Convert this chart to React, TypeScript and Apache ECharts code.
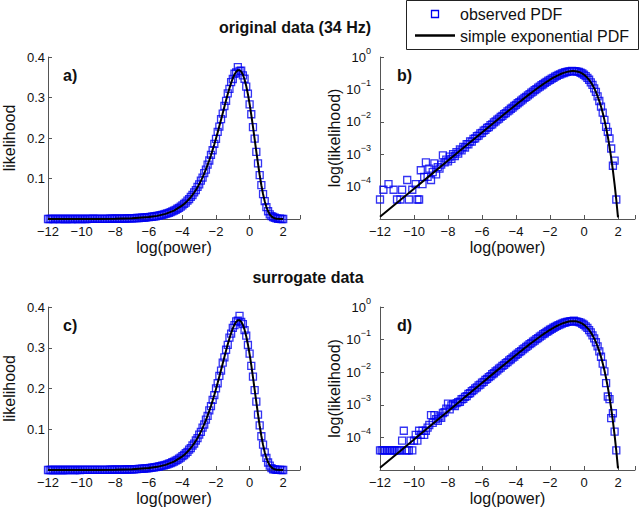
import { useEffect, useRef } from "react";
import * as echarts from "echarts";

// bin centres of log(power)
const binCenters = [
  -12.0, -11.9, -11.8, -11.7, -11.6, -11.5, -11.4, -11.3, -11.2, -11.1,
  -11.0, -10.9, -10.8, -10.7, -10.6, -10.5, -10.4, -10.3, -10.2, -10.1,
  -10.0, -9.9, -9.8, -9.7, -9.6, -9.5, -9.4, -9.3, -9.2, -9.1,
  -9.0, -8.9, -8.8, -8.7, -8.6, -8.5, -8.4, -8.3, -8.2, -8.1,
  -8.0, -7.9, -7.8, -7.7, -7.6, -7.5, -7.4, -7.3, -7.2, -7.1,
  -7.0, -6.9, -6.8, -6.7, -6.6, -6.5, -6.4, -6.3, -6.2, -6.1,
  -6.0, -5.9, -5.8, -5.7, -5.6, -5.5, -5.4, -5.3, -5.2, -5.1,
  -5.0, -4.9, -4.8, -4.7, -4.6, -4.5, -4.4, -4.3, -4.2, -4.1,
  -4.0, -3.9, -3.8, -3.7, -3.6, -3.5, -3.4, -3.3, -3.2, -3.1,
  -3.0, -2.9, -2.8, -2.7, -2.6, -2.5, -2.4, -2.3, -2.2, -2.1,
  -2.0, -1.9, -1.8, -1.7, -1.6, -1.5, -1.4, -1.3, -1.2, -1.1,
  -1.0, -0.9, -0.8, -0.7, -0.6, -0.5, -0.4, -0.3, -0.2, -0.1,
  0.0, 0.1, 0.2, 0.3, 0.4, 0.5, 0.6, 0.7, 0.8, 0.9,
  1.0, 1.1, 1.2, 1.3, 1.4, 1.5, 1.6, 1.7, 1.8, 1.9,
  2.0,
];

// observed PDF, original data (34 Hz)
const observedOriginal = [
  4.0e-5, 0, 8.0e-5, 0, 0, 1.2e-4, 0, 0, 8.0e-5, 0,
  4.0e-5, 0, 4.0e-5, 8.0e-5, 0, 0, 1.6e-4, 4.0e-5, 0, 8.0e-5,
  0, 1.2e-4, 4.0e-5, 4.0e-5, 3.2e-4, 1.2e-4, 2.0e-4, 5.6e-4, 2.0e-4, 3.6e-4,
  1.6e-4, 2.8e-4, 5.2e-4, 2.4e-4, 4.0e-4, 3.6e-4, 4.8e-4, 9.2e-4, 5.6e-4, 6.8e-4,
  6.0e-4, 8.4e-4, 7.2e-4, 1.0e-3, 8.8e-4, 1.16e-3, 1.04e-3, 1.4e-3, 1.32e-3, 1.68e-3,
  1.6e-3, 2.04e-3, 2.0e-3, 2.48e-3, 2.44e-3, 2.96e-3, 3.08e-3, 3.6e-3, 3.72e-3, 4.4e-3,
  4.56e-3, 5.32e-3, 5.6e-3, 6.48e-3, 6.84e-3, 7.88e-3, 8.36e-3, 9.56e-3, 1.024e-2, 1.16e-2,
  1.252e-2, 1.412e-2, 1.528e-2, 1.716e-2, 1.86e-2, 2.084e-2, 2.264e-2, 2.532e-2, 2.748e-2, 3.076e-2,
  3.34e-2, 3.732e-2, 4.048e-2, 4.52e-2, 4.9e-2, 5.46e-2, 5.92e-2, 6.58e-2, 7.13e-2, 7.91e-2,
  8.56e-2, 0.0948, 0.1024, 0.1131, 0.1219, 0.1343, 0.1444, 0.1584, 0.1697, 0.1855,
  0.1979, 0.2151, 0.2283, 0.2467, 0.2601, 0.279, 0.2918, 0.3102, 0.3213, 0.3378,
  0.3457, 0.3587, 0.3617, 0.3752, 0.3657, 0.366, 0.3546, 0.3463, 0.3267, 0.3098,
  0.2828, 0.2586, 0.2268, 0.1984, 0.1657, 0.1373, 0.1081, 0.0838, 0.0613, 0.0439,
  0.0293, 0.0191, 0.0114, 7.0e-3, 4.9e-3, 3.1e-3, 1.5e-3, 4.4e-4, 6.3e-4, 4.0e-5,
  0,
];

// observed PDF, surrogate data
const observedSurrogate = [
  4.0e-5, 4.0e-5, 4.0e-5, 4.0e-5, 4.0e-5, 4.0e-5, 4.0e-5, 4.0e-5, 4.0e-5, 4.0e-5,
  4.0e-5, 4.0e-5, 4.0e-5, 8.0e-5, 1.6e-4, 4.0e-5, 4.0e-5, 4.0e-5, 8.0e-5, 4.0e-5,
  8.0e-5, 1.2e-4, 8.0e-5, 1.6e-4, 1.2e-4, 1.6e-4, 1.2e-4, 1.6e-4, 2.0e-4, 2.4e-4,
  4.8e-4, 2.8e-4, 4.8e-4, 3.6e-4, 3.2e-4, 4.4e-4, 4.0e-4, 5.6e-4, 6.0e-4, 7.6e-4,
  1.08e-3, 7.2e-4, 9.6e-4, 1.04e-3, 9.2e-4, 1.12e-3, 1.2e-3, 1.24e-3, 1.48e-3, 1.52e-3,
  1.76e-3, 1.84e-3, 2.16e-3, 2.28e-3, 2.64e-3, 2.8e-3, 3.2e-3, 3.44e-3, 3.92e-3, 4.16e-3,
  4.76e-3, 5.08e-3, 5.84e-3, 6.24e-3, 7.08e-3, 7.6e-3, 8.64e-3, 9.28e-3, 1.052e-2, 1.132e-2,
  1.28e-2, 1.38e-2, 1.56e-2, 1.684e-2, 1.896e-2, 2.048e-2, 2.304e-2, 2.492e-2, 2.8e-2, 3.028e-2,
  3.396e-2, 3.676e-2, 4.116e-2, 4.452e-2, 4.98e-2, 5.38e-2, 6.01e-2, 6.49e-2, 7.24e-2, 7.81e-2,
  8.69e-2, 0.0935, 0.1039, 0.1116, 0.1237, 0.1326, 0.1464, 0.1566, 0.172, 0.1835,
  0.2005, 0.2129, 0.2312, 0.2441, 0.2633, 0.2762, 0.2951, 0.3071, 0.3247, 0.3346,
  0.349, 0.3556, 0.3649, 0.3662, 0.3782, 0.3632, 0.358, 0.3432, 0.3298, 0.3068,
  0.2857, 0.2557, 0.2292, 0.1962, 0.1676, 0.1357, 0.1094, 0.0828, 0.0622, 0.0433,
  0.0298, 0.0184, 0.0106, 4.6e-3, 1.8e-3, 1.5e-3, 3.9e-4, 5.5e-4, 1.5e-4, 4.0e-5,
  0,
];

// simple exponential PDF
const curveX = [
  -12, -11, -10, -9, -8, -7, -6, -5.5, -5, -4.5,
  -4.0, -3.9, -3.8, -3.7, -3.6, -3.5, -3.4, -3.3, -3.2, -3.1,
  -3.0, -2.9, -2.8, -2.7, -2.6, -2.5, -2.4, -2.3, -2.2, -2.1,
  -2.0, -1.9, -1.8, -1.7, -1.6, -1.5, -1.4, -1.3, -1.2, -1.1,
  -1.0, -0.9, -0.8, -0.7, -0.6, -0.5, -0.4, -0.3, -0.2, -0.1,
  0.0, 0.1, 0.2, 0.3, 0.4, 0.5, 0.6, 0.7, 0.8, 0.9,
  1.0, 1.1, 1.2, 1.3, 1.4, 1.5, 1.6, 1.7, 1.8, 1.9, 2.0,
];
const curveY = [
  1.167e-5, 3.173e-5, 8.625e-5, 2.344e-4, 6.37e-4, 1.7296e-3, 4.6875e-3, 7.7046e-3, 1.2639e-2, 2.0666e-2,
  0.03361, 0.037009, 0.040736, 0.04482, 0.04929, 0.054177, 0.059514, 0.065336, 0.071677, 0.078573,
  0.086058, 0.094167, 0.102933, 0.112384, 0.122547, 0.13344, 0.145075, 0.157452, 0.17056, 0.184371,
  0.198835, 0.213883, 0.229417, 0.245307, 0.261388, 0.277456, 0.293264, 0.308524, 0.322898, 0.336014,
  0.347459, 0.356783, 0.363538, 0.367269, 0.367553, 0.364007, 0.356381, 0.344485, 0.328328, 0.308096,
  0.28418, 0.257181, 0.227908, 0.197331, 0.16652, 0.136596, 0.108635, 0.083387, 0.061627, 0.043657,
  0.029514, 0.018948, 0.011489, 0.00654, 0.003472, 0.0017065, 7.7017e-4, 3.1635e-4, 1.171e-4, 3.8635e-5, 1.1225e-5,
];

const sectionTitles = ["original data (34 Hz)", "surrogate data"];
const panelLetters = ["a)", "b)", "c)", "d)"];
const legendNames = ["observed PDF", "simple exponential PDF"];
const xAxisName = "log(power)";
const yAxisNames = ["likelihood", "log(likelihood)"];

const FONT = '"Liberation Sans", Arial, Helvetica, sans-serif';
const MINUS = "\u2212";
const TEXT = "#111";
const AXIS = "#555";
const BLUE = "#0000f0";

function fmtX(v: number) {
  if (v > 2) return "";
  return String(v).replace("-", MINUS);
}

export default function App() {
  const ref = useRef<HTMLDivElement>(null);
  useEffect(() => {
    const chart = echarts.init(ref.current!, null, { renderer: "svg" });
    const grids = [
      { left: 45, top: 57, width: 255, height: 162 },
      { left: 380, top: 57, width: 255, height: 162 },
      { left: 45, top: 307, width: 255, height: 163 },
      { left: 380, top: 307, width: 255, height: 163 },
    ];
    const isLog = [false, true, false, true];
    const obs = [observedOriginal, observedOriginal, observedSurrogate, observedSurrogate];

    const xAxis = grids.map((_, i) => ({
      type: "value",
      gridIndex: i,
      min: -12,
      max: 3,
      interval: 2,
      name: xAxisName,
      nameLocation: "middle",
      nameGap: 20,
      nameTextStyle: { fontSize: 16, color: TEXT, fontFamily: FONT },
      axisLine: { show: true, onZero: false, lineStyle: { color: AXIS, width: 1 } },
      axisTick: { show: true, inside: true, length: 4, lineStyle: { color: AXIS } },
      axisLabel: { fontSize: 13, color: TEXT, fontFamily: FONT, margin: 6, formatter: fmtX },
      splitLine: { show: false },
    }));

    const yAxis = grids.map((_, i) =>
      isLog[i]
        ? {
            type: "log",
            logBase: 10,
            gridIndex: i,
            min: 1e-5,
            max: 1,
            name: yAxisNames[1],
            nameLocation: "middle",
            nameGap: 38,
            nameTextStyle: { fontSize: 16, color: TEXT, fontFamily: FONT },
            axisLine: { show: true, onZero: false, lineStyle: { color: AXIS, width: 1 } },
            axisTick: { show: true, inside: true, length: 4, lineStyle: { color: AXIS } },
            axisLabel: {
              fontSize: 13,
              color: TEXT,
              fontFamily: FONT,
              margin: 9,
              formatter: (v: number) => {
                const e = Math.round(Math.log10(v));
                if (e <= -5) return "";
                return "10{sup|" + (e < 0 ? MINUS + -e : String(e)) + "}";
              },
              rich: {
                sup: { fontSize: 9, color: TEXT, fontFamily: FONT, padding: [0, 0, 13, 0] },
              },
            },
            splitLine: { show: false },
          }
        : {
            type: "value",
            gridIndex: i,
            min: 0,
            max: 0.4,
            interval: 0.1,
            name: yAxisNames[0],
            nameLocation: "middle",
            nameGap: 31,
            nameTextStyle: { fontSize: 16, color: TEXT, fontFamily: FONT },
            axisLine: { show: true, onZero: false, lineStyle: { color: AXIS, width: 1 } },
            axisTick: { show: true, inside: true, length: 4, lineStyle: { color: AXIS } },
            axisLabel: {
              fontSize: 13,
              color: TEXT,
              fontFamily: FONT,
              margin: 3,
              formatter: (v: number) => (v <= 0 ? "" : v.toFixed(1)),
            },
            splitLine: { show: false },
          }
    );

    const scatterSeries = grids.map((_, i) => ({
      type: "scatter",
      name: legendNames[0],
      xAxisIndex: i,
      yAxisIndex: i,
      symbol: "rect",
      symbolSize: 7,
      clip: false,
      silent: true,
      z: 2,
      itemStyle: { color: "rgba(0,0,0,0)", borderColor: BLUE, borderWidth: 1.3 },
      data: binCenters
        .map((x, j) => [x, obs[i][j]])
        .filter((p) => !isLog[i] || p[1] > 0),
    }));

    const lineSeries = grids.map((_, i) => ({
      type: "line",
      name: legendNames[1],
      xAxisIndex: i,
      yAxisIndex: i,
      symbol: "none",
      showSymbol: false,
      silent: true,
      z: 3,
      lineStyle: { color: "#000", width: 2 },
      data: curveX.map((x, j) => [x, curveY[j]]),
    }));

    const txt = (text: string, x: number, y: number, size: number, bold: boolean, align = "left") => ({
      type: "text",
      x,
      y,
      z: 20,
      style: {
        text,
        fill: TEXT,
        fontSize: size,
        fontWeight: bold ? "bold" : "normal",
        fontFamily: FONT,
        align,
        verticalAlign: "middle",
        textAlign: align,
        textVerticalAlign: "middle",
      },
    });

    const letterPos = [
      [63, 75],
      [397, 75],
      [63, 325],
      [397, 325],
    ];

    const graphic: any[] = [
      txt(sectionTitles[0], 295, 27, 16, true, "center"),
      txt(sectionTitles[1], 308, 277, 16, true, "center"),
      ...panelLetters.map((l, i) => txt(l, letterPos[i][0], letterPos[i][1], 16, true)),
      {
        type: "rect",
        z: 15,
        shape: { x: 406.5, y: 0.5, width: 232, height: 49 },
        style: { fill: "#fff", stroke: "#222", lineWidth: 1 },
      },
      {
        type: "rect",
        z: 16,
        shape: { x: 431.5, y: 10.5, width: 7, height: 7 },
        style: { fill: "none", stroke: BLUE, lineWidth: 1.3 },
      },
      {
        type: "line",
        z: 16,
        shape: { x1: 415, y1: 35.5, x2: 455, y2: 35.5 },
        style: { stroke: "#000", lineWidth: 2.5 },
      },
      txt(legendNames[0], 460, 14, 16, false),
      txt(legendNames[1], 460, 36, 16, false),
    ];

    chart.setOption({
      animation: false,
      backgroundColor: "#fff",
      textStyle: { fontFamily: FONT },
      grid: grids,
      xAxis,
      yAxis,
      series: [...scatterSeries, ...lineSeries],
      graphic,
    });
    return () => chart.dispose();
  }, []);
  return (
    <div
      ref={ref}
      style={{ position: "fixed", left: 0, top: 0, width: 640, height: 509, background: "#fff" }}
    />
  );
}
